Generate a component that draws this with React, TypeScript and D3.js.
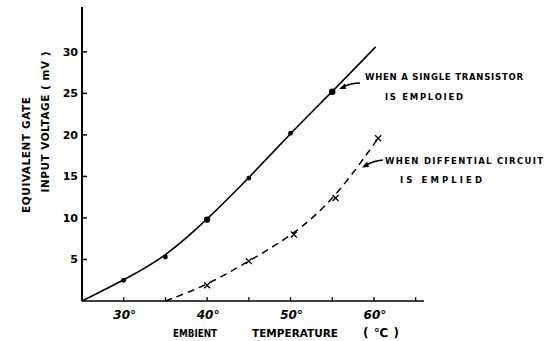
import React from "react";
import * as d3 from "d3";

const singleTemps = [25, 30, 35, 40, 45, 50, 55, 60.2];
const singleVolts = [0, 2.5, 5.3, 9.8, 14.8, 20.2, 25.2, 30.6];
const singleMarkerTemps = [30, 35, 40, 45, 50, 55];
const singleMarkerVolts = [2.5, 5.3, 9.8, 14.8, 20.2, 25.2];

const diffTemps = [35, 40, 45, 50.4, 55.4, 60.5];
const diffVolts = [0, 1.9, 4.8, 8.0, 12.4, 19.6];
const diffMarkerTemps = [40, 45, 50.4, 55.4, 60.5];
const diffMarkerVolts = [1.9, 4.8, 8.0, 12.4, 19.6];

const yTicks = [5, 10, 15, 20, 25, 30];
const xMajorTicks = [30, 40, 50, 60];
const xMinorTicks = [35, 45, 55, 65];

export default function App() {
  const W = 544, H = 341;
  const x = d3.scaleLinear().domain([25, 66]).range([82, 424]);
  const y = d3.scaleLinear().domain([0, 35.4]).range([301, 7]);
  const line = d3
    .line<[number, number]>()
    .x((d) => x(d[0]))
    .y((d) => y(d[1]))
    .curve(d3.curveBasis);
  const single = singleTemps.map((t, i) => [t, singleVolts[i]] as [number, number]);
  const diff = diffTemps.map((t, i) => [t, diffVolts[i]] as [number, number]);
  const font = "'DejaVu Sans', sans-serif";
  return (
    <svg
      width={W}
      height={H}
      style={{ position: "absolute", left: 0, top: 0, background: "#fff" }}
      fontFamily={font}
    >
      {/* axes */}
      <line x1={x(25)} x2={x(25)} y1={y(35.4)} y2={y(0)} stroke="#000" strokeWidth={2} />
      <line x1={x(25)} x2={x(66)} y1={y(0)} y2={y(0)} stroke="#000" strokeWidth={1.6} />
      {yTicks.map((t) => (
        <g key={"y" + t}>
          <line x1={x(25)} x2={x(25) + 5} y1={y(t)} y2={y(t)} stroke="#000" strokeWidth={1.5} />
          <text x={x(25) - 4} y={y(t) + 4} fontSize={11} fontWeight="bold" textAnchor="end">
            {t}
          </text>
        </g>
      ))}
      {xMajorTicks.map((t) => (
        <g key={"x" + t}>
          <line x1={x(t)} x2={x(t)} y1={y(0)} y2={y(0) - 4} stroke="#000" strokeWidth={1.3} />
          <text x={x(t) + 1} y={319} fontSize={12} fontWeight="bold" fontStyle="italic" textAnchor="middle">
            {t + "°"}
          </text>
        </g>
      ))}
      {xMinorTicks.map((t) => (
        <line key={"m" + t} x1={x(t)} x2={x(t)} y1={y(0)} y2={y(0) - 4} stroke="#000" strokeWidth={1.2} />
      ))}

      {/* curves */}
      <path d={line(single) || ""} fill="none" stroke="#000" strokeWidth={1.6} />
      <path d={line(diff) || ""} fill="none" stroke="#000" strokeWidth={1.5} strokeDasharray="7 5" />
      {singleMarkerTemps.map((t, i) => (
        <circle key={"s" + t} cx={x(t)} cy={y(singleMarkerVolts[i])} r={t === 40 || t === 55 ? 3.2 : 2.4} fill="#000" />
      ))}
      {diffMarkerTemps.map((t, i) => {
        const cx = x(t), cy = y(diffMarkerVolts[i]);
        return (
          <g key={"d" + t} stroke="#000" strokeWidth={1.3}>
            <line x1={cx - 3} x2={cx + 3} y1={cy - 3} y2={cy + 3} />
            <line x1={cx - 3} x2={cx + 3} y1={cy + 3} y2={cy - 3} />
          </g>
        );
      })}

      {/* annotations */}
      <path d="M360,83 Q350,83 341,88" fill="none" stroke="#000" strokeWidth={1.5} />
      <path d="M339,89 L345,83.5 L346,89 Z" fill="#000" />
      <text x={365} y={80} fontSize={8.5} fontWeight="bold" textLength={158} lengthAdjust="spacing">
        WHEN A SINGLE TRANSISTOR
      </text>
      <text x={385} y={100} fontSize={8.5} fontWeight="bold" textLength={78} lengthAdjust="spacing">
        IS EMPLOIED
      </text>

      <path d="M383,160 Q372,161 365,166" fill="none" stroke="#000" strokeWidth={1.5} />
      <path d="M362,167.5 L367,161.5 L369,167 Z" fill="#000" />
      <text x={385} y={164} fontSize={8.5} fontWeight="bold" textLength={158} lengthAdjust="spacing">
        WHEN DIFFENTIAL CIRCUIT
      </text>
      <text x={400} y={183} fontSize={8.5} fontWeight="bold" textLength={82} lengthAdjust="spacing">
        IS EMPLIED
      </text>

      {/* axis titles */}
      <text x={173} y={337} fontSize={10.5} fontWeight="bold" textLength={44} lengthAdjust="spacingAndGlyphs">
        EMBIENT
      </text>
      <text x={252} y={337} fontSize={10.5} fontWeight="bold" textLength={86} lengthAdjust="spacing">
        TEMPERATURE
      </text>
      <text x={363} y={337} fontSize={12} fontWeight="bold" textLength={36} lengthAdjust="spacing">
        ( ℃ )
      </text>
      <text
        transform="translate(30,155) rotate(-90)"
        fontSize={10.5}
        fontWeight="bold"
        textAnchor="middle"
        textLength={116}
        lengthAdjust="spacing"
      >
        EQUIVALENT GATE
      </text>
      <text
        transform="translate(49,122) rotate(-90)"
        fontSize={10.5}
        fontWeight="bold"
        textAnchor="middle"
        textLength={141}
        lengthAdjust="spacing"
      >
        INPUT VOLTAGE ( mV )
      </text>
    </svg>
  );
}
